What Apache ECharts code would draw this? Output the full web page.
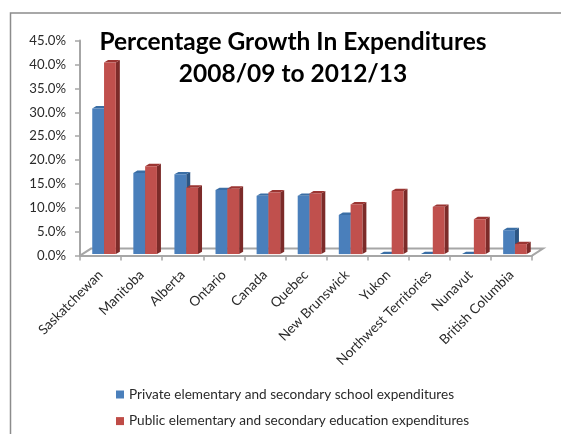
<!DOCTYPE html>
<html>
<head>
<meta charset="utf-8">
<style>html,body{margin:0;padding:0;background:#fff}#chart{width:561px;height:434px}</style>
<script src="https://cdn.jsdelivr.net/npm/echarts@6/dist/echarts.min.js"></script>
</head>
<body>
<div id="chart"></div>
<script>
const provinces = ['Saskatchewan','Manitoba','Alberta','Ontario','Canada','Quebec','New Brunswick','Yukon','Northwest Territories','Nunavut','British Columbia'];
const privateGrowth = [30.5,17.0,16.7,13.4,12.2,12.2,8.2,0,0,0,5.0];
const publicGrowth = [40.1,18.4,13.9,13.7,12.9,12.7,10.4,13.2,9.9,7.3,2.1];
const privateName = 'Private elementary and secondary school expenditures';
const publicName = 'Public elementary and secondary education expenditures';
const titleText = 'Percentage Growth In Expenditures\n2008/09 to 2012/13';

const FONT = 'Lato, "Open Sans", sans-serif';
const BAR_W = 11.8, DEPTH_X = 4, DEPTH_Y = 2.4, BASE_SHIFT = 1.5, GROUP_SHIFT = 3.5;

// Draws one extruded column: front face, lit top and shaded side.
function column(side, front, top, shade) {
  return function (params, api) {
    const base = api.coord([api.value(0), 0]);
    const tip = api.coord([api.value(0), api.value(1)]);
    const x0 = base[0] + GROUP_SHIFT + (side < 0 ? -BAR_W : 0);
    const x1 = x0 + BAR_W;
    const y0 = base[1] - BASE_SHIFT;
    const y1 = tip[1] - BASE_SHIFT;
    return {
      type: 'group',
      children: [
        { type: 'polygon', shape: { points: [[x1, y0], [x1 + DEPTH_X, y0 - DEPTH_Y], [x1 + DEPTH_X, y1 - DEPTH_Y], [x1, y1]] }, style: { fill: shade } },
        { type: 'polygon', shape: { points: [[x0, y1], [x0 + DEPTH_X, y1 - DEPTH_Y], [x1 + DEPTH_X, y1 - DEPTH_Y], [x1, y1]] }, style: { fill: top } },
        { type: 'rect', shape: { x: x0, y: y1, width: BAR_W, height: y0 - y1 }, style: { fill: front } }
      ]
    };
  };
}

// The chart floor: a thin parallelogram receding behind the category axis.
function floor(params, api) {
  const a = api.coord([0, 0]);
  const band = api.size([1, 0])[0];
  const left = a[0] - band / 2, right = left + band * provinces.length;
  const y = a[1], dx = 11, dy = 7;
  return {
    type: 'polyline',
    shape: { points: [[left, y], [left + dx, y - dy], [right + dx, y - dy], [right, y]] },
    style: { fill: null, stroke: '#a6a6a6', lineWidth: 2 },
    silent: true
  };
}

const chart = echarts.init(document.getElementById('chart'), null, { renderer: 'canvas' });
chart.setOption({
  animation: false,
  backgroundColor: '#fff',
  title: {
    text: titleText,
    left: 288, top: 21, textAlign: 'center',
    textStyle: { fontFamily: FONT, fontSize: 24.5, fontWeight: 'bold', color: '#000', lineHeight: 32 }
  },
  legend: {
    orient: 'vertical', left: 116, top: 386, padding: 0, itemGap: 9.6,
    itemWidth: 8, itemHeight: 8,
    data: [
      { name: privateName, icon: 'rect', itemStyle: { color: '#4a7fbb' } },
      { name: publicName, icon: 'rect', itemStyle: { color: '#bf4c47' } }
    ],
    textStyle: { fontFamily: FONT, fontSize: 13.6, color: '#2a2a2a', lineHeight: 17 }
  },
  grid: { left: 80, right: 29, top: 40.6, height: 215 },
  xAxis: {
    type: 'category', data: provinces,
    axisLine: { lineStyle: { color: '#a6a6a6', width: 2 } },
    axisTick: { show: true, alignWithLabel: false, length: 5, lineStyle: { color: '#a6a6a6', width: 1.5 } },
    axisLabel: { interval: 0, rotate: 45, margin: 17, fontFamily: FONT, fontSize: 13.6, color: '#2a2a2a' },
    z: 1
  },
  yAxis: {
    type: 'value', min: 0, max: 45, interval: 5,
    splitLine: { show: false },
    axisLine: { show: true, lineStyle: { color: '#a6a6a6', width: 2 } },
    axisTick: { show: true, length: 5, lineStyle: { color: '#a6a6a6', width: 1.5 } },
    axisLabel: { margin: 14, fontFamily: FONT, fontSize: 13.2, color: '#2a2a2a', formatter: v => v.toFixed(1) + '%' }
  },
  graphic: [
    { type: 'polyline', silent: true, shape: { points: [[10.5, 434], [10.5, 13], [561, 13]] }, style: { fill: null, stroke: '#8c8c8c', lineWidth: 1.5 } }
  ],
  series: [
    { type: 'custom', name: 'floor', data: [[0, 0]], renderItem: floor, encode: { x: 0, y: 1 }, silent: true, z: 1 },
    { type: 'custom', name: privateName, data: privateGrowth.map((v, i) => [i, v]), renderItem: column(-1, '#4a7fbb', '#3a6ea5', '#2c5684'), encode: { x: 0, y: 1 }, z: 2 },
    { type: 'custom', name: publicName, data: publicGrowth.map((v, i) => [i, v]), renderItem: column(1, '#c0504d', '#9b3532', '#7c2b29'), encode: { x: 0, y: 1 }, z: 3 }
  ]
});
</script>
</body>
</html>
